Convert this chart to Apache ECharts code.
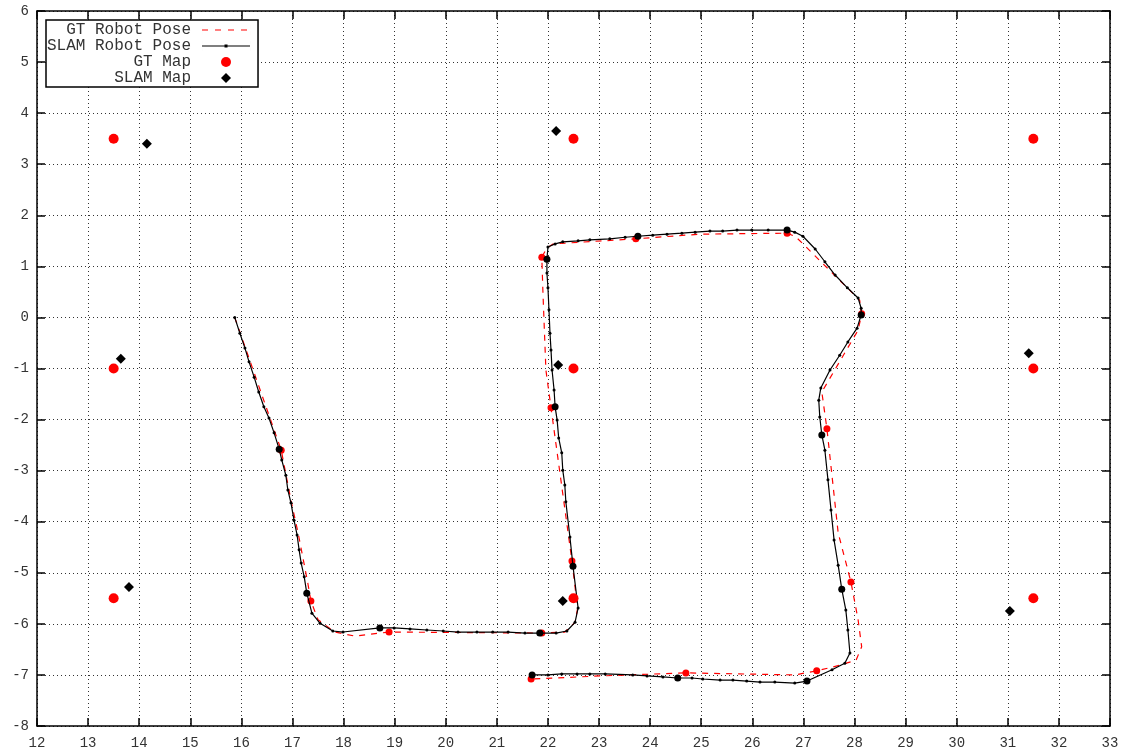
<!DOCTYPE html>
<html>
<head>
<meta charset="utf-8">
<script src="https://cdn.jsdelivr.net/npm/echarts@6/dist/echarts.min.js"></script>
<style>html,body{margin:0;padding:0;background:#fff}#c{width:1132px;height:756px}</style>
</head>
<body>
<div id="c"></div>
<script>
// ---- data ----
const xTicks = [12,13,14,15,16,17,18,19,20,21,22,23,24,25,26,27,28,29,30,31,32,33];
const yTicks = [-8,-7,-6,-5,-4,-3,-2,-1,0,1,2,3,4,5,6];

const gtPose = [
  [15.87,0.0],[16.78,-2.60],[16.97,-3.58],[17.11,-4.22],[17.30,-5.20],[17.36,-5.55],
  [17.50,-5.92],[17.83,-6.16],[18.22,-6.24],[18.89,-6.16],[21.88,-6.18],[22.33,-6.16],
  [22.53,-5.97],[22.58,-5.70],[22.47,-4.77],[22.06,-1.77],[21.96,-1.03],[21.90,0.54],
  [21.88,1.18],[21.98,1.36],[22.10,1.44],[23.72,1.54],[24.97,1.63],[26.68,1.65],
  [26.85,1.58],[28.10,0.34],[28.14,0.07],[28.07,-0.25],[27.36,-1.46],[27.46,-2.18],
  [27.68,-4.22],[27.93,-5.18],[28.07,-5.92],[28.14,-6.45],[28.03,-6.71],[27.71,-6.81],
  [27.26,-6.92],[26.83,-7.00],[24.70,-6.96],[23.02,-7.02],[21.67,-7.08]
];
const slamPose = [
  [15.87,0.0],[15.97,-0.31],[16.07,-0.60],[16.15,-0.87],[16.25,-1.17],[16.34,-1.46],
  [16.44,-1.75],[16.54,-1.97],[16.64,-2.26],[16.74,-2.58],[16.79,-2.79],[16.87,-3.09],
  [16.91,-3.38],[16.97,-3.63],[17.03,-3.97],[17.09,-4.26],[17.13,-4.55],[17.17,-4.81],
  [17.23,-5.08],[17.28,-5.40],[17.38,-5.79],[17.54,-5.99],[17.79,-6.14],[17.99,-6.16],
  [18.71,-6.08],[18.99,-6.08],[19.30,-6.10],[19.63,-6.12],[19.95,-6.14],[20.24,-6.16],
  [20.61,-6.16],[20.92,-6.16],[21.22,-6.16],[21.55,-6.18],[21.84,-6.18],[22.16,-6.18],
  [22.37,-6.14],[22.53,-5.97],[22.59,-5.69],[22.49,-4.87],[22.43,-4.30],[22.35,-3.61],
  [22.33,-3.28],[22.29,-2.99],[22.27,-2.65],[22.21,-2.36],[22.18,-2.01],[22.14,-1.75],
  [22.12,-1.42],[22.08,-1.03],[22.06,-0.64],[22.04,-0.31],[22.02,0.15],[22.00,0.58],
  [21.98,0.87],[21.98,1.14],[22.00,1.38],[22.14,1.44],[22.29,1.48],[22.59,1.50],
  [22.82,1.52],[23.21,1.54],[23.51,1.57],[23.76,1.59],[24.05,1.61],[24.33,1.63],
  [24.62,1.65],[24.88,1.67],[25.17,1.69],[25.42,1.69],[25.70,1.71],[25.99,1.71],
  [26.31,1.71],[26.68,1.71],[26.83,1.67],[26.99,1.59],[27.23,1.34],[27.42,1.09],
  [27.62,0.83],[27.86,0.58],[28.07,0.38],[28.13,0.18],[28.13,0.05],[28.05,-0.21],
  [27.87,-0.48],[27.71,-0.74],[27.52,-1.03],[27.34,-1.38],[27.30,-1.62],[27.32,-1.95],
  [27.36,-2.30],[27.42,-2.60],[27.48,-3.18],[27.54,-3.77],[27.60,-4.36],[27.68,-4.85],
  [27.75,-5.32],[27.83,-5.73],[27.87,-6.12],[27.91,-6.57],[27.81,-6.77],[27.56,-6.90],
  [27.07,-7.12],[26.83,-7.16],[26.44,-7.14],[26.15,-7.14],[25.89,-7.12],[25.62,-7.10],
  [25.37,-7.10],[25.03,-7.08],[24.82,-7.06],[24.54,-7.06],[24.25,-7.04],[23.94,-7.02],
  [23.66,-7.00],[23.12,-6.98],[22.82,-6.98],[22.57,-6.98],[22.27,-6.98],[22.00,-7.00],
  [21.69,-7.00]
];
const gtKeyframes = [
  [16.78,-2.60],[17.36,-5.55],[18.89,-6.16],[21.88,-6.18],[22.47,-4.77],[22.06,-1.77],
  [21.88,1.18],[23.72,1.54],[26.68,1.65],[28.14,0.07],[27.46,-2.18],[27.93,-5.18],
  [27.26,-6.92],[24.70,-6.96],[21.67,-7.08]
];
const slamKeyframes = [
  [16.74,-2.58],[17.28,-5.40],[18.71,-6.08],[21.84,-6.18],[22.49,-4.87],[22.14,-1.75],
  [21.98,1.14],[23.76,1.59],[26.68,1.71],[28.13,0.05],[27.36,-2.30],[27.75,-5.32],
  [27.07,-7.12],[24.54,-7.06],[21.69,-7.00]
];
const gtMap = [
  [13.5,3.5],[22.5,3.5],[31.5,3.5],[13.5,-1],[22.5,-1],[31.5,-1],[13.5,-5.5],[22.5,-5.5],[31.5,-5.5]
];
const slamMap = [
  [14.15,3.40],[22.16,3.65],[31.41,-0.70],[13.64,-0.81],[22.20,-0.93],[13.80,-5.28],[22.29,-5.55],[31.04,-5.75]
];
const seriesNames = ['GT Robot Pose','SLAM Robot Pose','GT Map','SLAM Map'];

// ---- chart ----
const FONT = 'Liberation Mono';
const chart = echarts.init(document.getElementById('c'), null, {renderer:'canvas'});
const gridLine = {show:true, lineStyle:{color:'#333', width:1, type:[1,3]}};
const axisCommon = {
  type:'value', interval:1,
  axisLine:{show:true, onZero:false, lineStyle:{color:'#000', width:1.5}},
  axisTick:{show:true, inside:true, length:8, lineStyle:{color:'#000', width:1.5}},
};
const ICON_DASH = 'path://M0,0h0.01v10h-0.01zM48,0h0.01v10h-0.01zM0,4.4h6v1.2h-6zM13,4.4h6v1.2h-6zM26,4.4h6v1.2h-6zM39,4.4h6v1.2h-6z';
const ICON_LINEPT = 'path://M0,0h0.01v10h-0.01zM48,0h0.01v10h-0.01zM0,4.4h48v1.2h-48zM22.5,3.5h3v3h-3z';
const ICON_DIAMOND = 'path://M24,0.5L28.5,5L24,9.5L19.5,5Z';
chart.setOption({
  animation:false,
  backgroundColor:'#fff',
  grid:{left:37, right:22, top:11, bottom:30, containLabel:false},
  xAxis:[
    Object.assign({}, axisCommon, {min:xTicks[0], max:xTicks[xTicks.length-1], position:'bottom',
      axisLabel:{color:'#333', fontFamily:FONT, fontSize:14, margin:10},
      splitLine:gridLine}),
    Object.assign({}, axisCommon, {min:xTicks[0], max:xTicks[xTicks.length-1], position:'top',
      axisLabel:{show:false}, splitLine:{show:false}})
  ],
  yAxis:[
    Object.assign({}, axisCommon, {min:yTicks[0], max:yTicks[yTicks.length-1], position:'left',
      axisLabel:{color:'#333', fontFamily:FONT, fontSize:14, margin:8},
      splitLine:gridLine}),
    Object.assign({}, axisCommon, {min:yTicks[0], max:yTicks[yTicks.length-1], position:'right',
      axisLabel:{show:false}, splitLine:{show:false}})
  ],
  legend:{
    data:[
      {name:seriesNames[0], icon:ICON_DASH},
      {name:seriesNames[1], icon:ICON_LINEPT},
      {name:seriesNames[2], icon:'circle'},
      {name:seriesNames[3], icon:ICON_DIAMOND}
    ],
    orient:'vertical', left:46, top:20, align:'right',
    backgroundColor:'#fff', borderColor:'#000', borderWidth:1.5,
    padding:[2,8,1,1], itemGap:0, itemWidth:48, itemHeight:10, symbolKeepAspect:true,
    textStyle:{fontFamily:FONT, fontSize:16, color:'#333', width:143, align:'right',
      lineHeight:15.6, padding:[0,6,0,0]},
    selectedMode:false
  },
  series:[
    {name:seriesNames[0], type:'line', data:gtPose, symbol:'none', z:2,
      lineStyle:{color:'#ff0000', width:1.2, type:[6,6]}, itemStyle:{color:'#ff0000'}},
    {name:'gtKF', type:'scatter', data:gtKeyframes, symbol:'circle', symbolSize:7, z:3,
      itemStyle:{color:'#ff0000', opacity:1}},
    {name:seriesNames[1], type:'line', data:slamPose, symbol:'circle', symbolSize:3, showAllSymbol:true, z:4,
      lineStyle:{color:'#000', width:1.2}, itemStyle:{color:'#000'}},
    {name:'slamKF', type:'scatter', data:slamKeyframes, symbol:'circle', symbolSize:7, z:5,
      itemStyle:{color:'#000', opacity:1}},
    {name:seriesNames[2], type:'scatter', data:gtMap, symbol:'circle', symbolSize:10, z:6,
      itemStyle:{color:'#ff0000', opacity:1}},
    {name:seriesNames[3], type:'scatter', data:slamMap, symbol:'diamond', symbolSize:10, z:7,
      itemStyle:{color:'#000', opacity:1}}
  ]
});
</script>
</body>
</html>
